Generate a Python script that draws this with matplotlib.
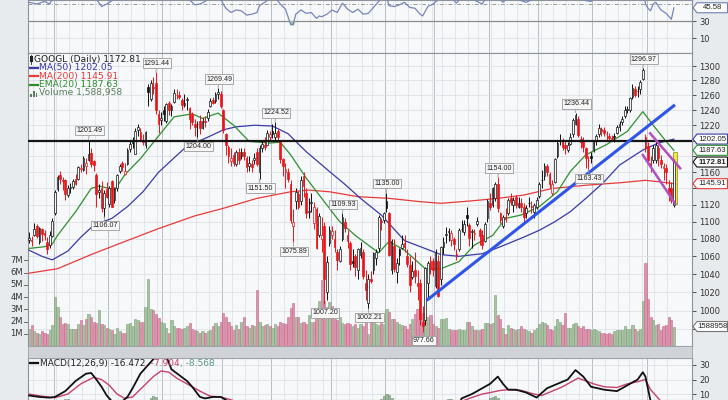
import matplotlib
matplotlib.use("Agg")
import matplotlib.pyplot as plt
from matplotlib.patches import Rectangle, Polygon
from matplotlib.lines import Line2D
from matplotlib.ticker import FixedLocator, FixedFormatter, NullLocator
import numpy as np
import pandas as pd

W, H = 728, 400
L, R = 28, 692

holidays = ['2018-05-28', '2018-07-04', '2018-09-03', '2018-11-22', '2018-12-05',
            '2018-12-25', '2019-01-01', '2019-01-21', '2019-02-18', '2019-04-19']
days = pd.bdate_range('2018-05-17', '2019-05-15')
days = days[~days.isin(pd.to_datetime(holidays))]

# daily OHLC, one row per month
opens = [1079, 1079, 1085, 1095, 1076, 1091, 1087, 1076, 1073, 1083,
         1110, 1139, 1156, 1151, 1150, 1132, 1141, 1142, 1152, 1152, 1164, 1163, 1168, 1175, 1184, 1174, 1156, 1136, 1141, 1116, 1139,
         1121, 1149, 1126, 1141, 1161, 1171, 1158, 1170, 1189, 1197, 1183, 1214, 1211, 1201, 1194, 1271, 1255, 1270, 1276, 1235, 1227,
         1240, 1225, 1250, 1240, 1251, 1260, 1260, 1253, 1247, 1254, 1243, 1235, 1222, 1222, 1225, 1217, 1225, 1230, 1246, 1254, 1252, 1262, 1262,
         1240, 1208, 1192, 1174, 1182, 1170, 1185, 1180, 1185, 1178, 1168, 1170, 1175, 1186, 1160, 1190, 1195, 1195, 1205,
         1212, 1205, 1212, 1200, 1176, 1160, 1160, 1146, 1095, 1125, 1133, 1125, 1155, 1135, 1112, 1122, 1098, 1115, 1085, 1080, 1095, 1020, 1075,
         1085, 1080, 1065, 1055, 1080, 1100, 1085, 1075, 1055, 1060, 1045, 1062, 1065, 1030, 1008, 1035, 1045, 1058, 1070, 1100, 1102,
         1125, 1110, 1045, 1072, 1042, 1068, 1070, 1075, 1060, 1050, 1037, 1045, 1030, 1030, 988, 990, 1030, 1055, 1055,
         1027, 1055, 1035, 1071, 1085, 1088, 1079, 1080, 1062, 1068, 1092, 1088, 1108, 1096, 1088, 1086, 1097, 1090, 1085, 1078, 1105,
         1122, 1120, 1128, 1146, 1110, 1095, 1106, 1110, 1128, 1120, 1130, 1118, 1122, 1118, 1110, 1122, 1118, 1112, 1118,
         1131, 1150, 1155, 1168, 1158, 1135, 1148, 1180, 1200, 1198, 1195, 1188, 1196, 1208, 1222, 1228, 1202, 1200, 1190, 1175, 1180,
         1188, 1200, 1208, 1215, 1214, 1208, 1206, 1204, 1206, 1210, 1218, 1224, 1232, 1240, 1240, 1257, 1268, 1265, 1268, 1282, 1205,
         1193, 1172, 1175, 1175, 1190, 1175, 1165, 1165, 1140, 1140, 1120]
highs = [1088, 1083, 1098, 1097, 1094, 1093, 1090, 1082, 1089, 1105,
         1138, 1157, 1162, 1154, 1152, 1144, 1147, 1152, 1158, 1168, 1170, 1180, 1178, 1201.49, 1190, 1175, 1159, 1146, 1149, 1138, 1148,
         1143, 1150, 1142, 1158, 1170, 1174, 1172, 1190, 1199, 1205, 1216, 1221, 1216, 1208, 1212, 1275, 1280, 1285, 1291.44, 1240, 1238,
         1245, 1250, 1252, 1248, 1268, 1268, 1266, 1256, 1262, 1258, 1244, 1238, 1228, 1226, 1234, 1230, 1232, 1242, 1256, 1258, 1264, 1269.49, 1265,
         1242, 1210, 1195, 1190, 1186, 1188, 1190, 1190, 1190, 1180, 1180, 1175, 1184, 1190, 1194, 1200, 1205, 1214, 1212,
         1222, 1224.52, 1215, 1201, 1178, 1172, 1165, 1150, 1115, 1140, 1137, 1155, 1160, 1140, 1128, 1135, 1124, 1118, 1110, 1106, 1100, 1060, 1095,
         1095, 1090, 1068, 1072, 1109.93, 1105, 1090, 1078, 1068, 1063, 1070, 1076, 1068, 1045, 1040, 1044, 1065, 1068, 1108, 1105, 1112,
         1135, 1112, 1080, 1080, 1058, 1070, 1085, 1085, 1068, 1060, 1055, 1065, 1045, 1035, 1005, 1048, 1055, 1060, 1058,
         1068, 1062, 1072, 1082, 1094, 1093, 1090, 1082, 1068, 1093, 1102, 1102, 1117, 1098, 1092, 1091, 1106, 1093, 1090, 1100, 1127,
         1134, 1142, 1148, 1154, 1112, 1108, 1116, 1128, 1135, 1130, 1132, 1130, 1128, 1122, 1120, 1130, 1125, 1122, 1130,
         1148, 1163, 1172, 1170, 1160, 1150, 1178, 1200, 1208, 1203, 1200, 1198, 1210, 1230, 1236.44, 1232, 1206, 1205, 1192, 1180, 1185,
         1200, 1208, 1222, 1218, 1218, 1212, 1210, 1207, 1210, 1220, 1225, 1232, 1245, 1246, 1258, 1275, 1272, 1272, 1280, 1296.97, 1208,
         1198, 1180, 1195, 1200, 1195, 1182, 1172, 1170, 1150, 1148, 1176]
lows = [1075, 1072, 1083, 1081, 1074, 1078, 1079, 1063, 1070, 1082,
        1108, 1137, 1146, 1138, 1126, 1130, 1135, 1139, 1144, 1150, 1160, 1162, 1158, 1174, 1166, 1162, 1118, 1128, 1112, 1106.07, 1129,
        1117, 1117, 1122, 1137, 1159, 1162, 1156, 1169, 1185, 1190, 1183, 1206, 1199, 1194, 1191, 1245, 1252, 1262, 1235, 1210, 1220,
        1225, 1223, 1233, 1232, 1250, 1255, 1255, 1240, 1244, 1240, 1215, 1220, 1206, 1204, 1208, 1215, 1218, 1226, 1244, 1248, 1250, 1255, 1243,
        1210, 1182, 1172, 1168, 1168, 1168, 1170, 1176, 1175, 1160, 1162, 1160, 1170, 1168, 1151.5, 1185, 1188, 1194, 1200,
        1203, 1200, 1200, 1172, 1155, 1140, 1148, 1099, 1075.89, 1115, 1115, 1120, 1130, 1105, 1105, 1112, 1092, 1068, 1082, 1065, 1007.2, 1012, 1072,
        1080, 1065, 1045, 1054, 1077, 1088, 1070, 1045, 1048, 1038, 1035, 1058, 1035, 1012, 1002.21, 1030, 1040, 1050, 1065, 1090, 1098,
        1112, 1060, 1040, 1042, 1030, 1050, 1068, 1065, 1048, 1020, 1035, 1030, 1012, 985, 977.66, 985, 1015, 1040, 1038,
        1025, 1015, 1028, 1063, 1075, 1077, 1072, 1067, 1056, 1066, 1088, 1085, 1095, 1072, 1070, 1079, 1095, 1073, 1068, 1076, 1100,
        1114, 1118, 1125, 1112, 1098, 1093, 1100, 1108, 1120, 1112, 1116, 1116, 1112, 1100, 1105, 1118, 1110, 1104, 1115,
        1128, 1140, 1150, 1155, 1141, 1132, 1147, 1178, 1195, 1188, 1183, 1185, 1195, 1205, 1220, 1205, 1190, 1185, 1165, 1163.43, 1172,
        1185, 1195, 1205, 1206, 1206, 1200, 1198, 1199, 1198, 1208, 1212, 1220, 1230, 1236, 1238, 1255, 1258, 1258, 1262, 1280, 1185,
        1170, 1160, 1172, 1172, 1168, 1165, 1150, 1145, 1125, 1122, 1118]
closes = [1081, 1077, 1092, 1083, 1093, 1086, 1084, 1068, 1084, 1101,
          1136, 1154, 1152, 1149, 1133, 1140, 1142, 1149, 1145, 1166, 1165, 1178, 1171, 1183, 1170, 1169, 1133, 1138, 1116, 1134, 1130,
          1141, 1118, 1141, 1156, 1168, 1167, 1161, 1188, 1196, 1197, 1213, 1218, 1200, 1198, 1211, 1264, 1276, 1270, 1240, 1222, 1230,
          1235, 1248, 1240, 1246, 1263, 1260, 1258, 1247, 1250, 1255, 1228, 1224, 1218, 1221, 1217, 1226, 1224, 1237, 1252, 1250, 1262, 1264, 1245,
          1214, 1194, 1180, 1178, 1172, 1185, 1175, 1186, 1180, 1166, 1172, 1167, 1178, 1170, 1190, 1196, 1192, 1210, 1208,
          1208, 1210, 1205, 1176, 1168, 1164, 1152, 1102, 1100, 1136, 1118, 1150, 1143, 1110, 1113, 1124, 1118, 1070, 1107, 1085, 1035, 1054, 1090,
          1089, 1071, 1056, 1068, 1106, 1093, 1078, 1051, 1052, 1048, 1068, 1070, 1038, 1022, 1035, 1032, 1064, 1065, 1106, 1100, 1111,
          1116, 1062, 1078, 1046, 1053, 1061, 1074, 1071, 1051, 1028, 1043, 1038, 1027, 991, 984, 1047, 1052, 1046, 1045,
          1065, 1016, 1071, 1076, 1086, 1089, 1087, 1074, 1062, 1090, 1091, 1097, 1105, 1081, 1089, 1087, 1101, 1083, 1073, 1097, 1125,
          1118, 1141, 1146, 1116, 1102, 1106, 1103, 1126, 1124, 1126, 1120, 1122, 1118, 1106, 1116, 1122, 1118, 1120, 1126,
          1146, 1151, 1168, 1160, 1146, 1145, 1176, 1197, 1200, 1192, 1190, 1194, 1205, 1227, 1233, 1207, 1198, 1192, 1178, 1175, 1178,
          1198, 1206, 1216, 1213, 1210, 1209, 1203, 1202, 1205, 1218, 1222, 1228, 1240, 1242, 1256, 1270, 1260, 1266, 1278, 1295, 1190,
          1175, 1168, 1191, 1195, 1178, 1170, 1168, 1160, 1137, 1126, 1172.81]
# daily volume in millions
volumes = [1.4, 1.7, 1.2, 1.1, 1.0, 1.2, 1.1, 1.0, 1.3, 1.7,
           4.0, 3.2, 2.4, 1.8, 1.9, 1.8, 1.4, 1.4, 1.4, 1.8, 2.1, 1.7, 2.2, 2.6, 2.4, 2.0, 1.9, 2.9, 1.8, 1.7, 1.5,
           1.4, 1.3, 1.0, 1.5, 1.2, 1.1, 1.1, 1.8, 1.9, 1.6, 2.2, 2.1, 2.0, 2.0, 3.2, 5.5, 3.0, 2.9, 2.6, 2.3, 2.0,
           1.9, 1.5, 1.1, 2.1, 1.6, 1.5, 1.5, 1.4, 1.5, 1.6, 1.9, 1.4, 1.3, 1.2, 1.1, 1.2, 1.1, 1.2, 1.3, 1.6, 1.9, 1.6, 2.0,
           2.7, 2.4, 2.0, 1.6, 1.3, 1.7, 1.4, 2.0, 2.4, 1.6, 1.5, 1.7, 1.6, 4.6, 2.0, 1.6, 1.7, 1.8, 1.6,
           1.5, 1.8, 1.6, 2.0, 1.9, 1.8, 2.4, 3.1, 3.5, 2.4, 2.4, 1.9, 2.0, 1.8, 2.5, 2.0, 2.0, 2.4, 3.7, 5.4, 3.7, 3.2, 3.6,
           3.3, 2.2, 2.1, 2.4, 1.9, 1.8, 1.9, 1.8, 1.6, 1.8, 1.5, 1.8, 1.6, 2.1, 1.0, 2.6, 2.0, 1.8, 1.7, 1.9, 1.8,
           3.0, 2.8, 2.2, 2.2, 2.0, 1.8, 1.7, 1.6, 1.4, 1.8, 2.2, 2.6, 3.0, 2.3, 2.7, 2.6, 2.4, 2.5, 1.8,
           1.6, 1.5, 2.2, 2.2, 2.3, 1.4, 1.3, 1.3, 1.3, 1.4, 1.3, 1.3, 2.0, 2.0, 1.6, 1.3, 1.3, 1.3, 1.4, 1.9, 1.9,
           1.8, 1.9, 4.2, 2.5, 2.2, 1.5, 1.0, 1.7, 1.5, 1.4, 1.3, 1.4, 1.6, 1.4, 1.3, 1.2, 1.1, 1.3, 1.5,
           1.8, 2.0, 1.9, 1.7, 1.4, 1.3, 1.6, 2.2, 2.0, 1.7, 2.7, 1.5, 1.5, 1.8, 1.9, 1.6, 1.5, 1.6, 1.4, 1.4, 1.3,
           1.4, 1.3, 1.2, 1.1, 1.1, 1.0, 1.1, 1.0, 1.2, 1.3, 1.3, 1.3, 1.6, 1.4, 1.4, 1.7, 1.4, 1.2, 1.4, 3.7, 6.8,
           3.8, 2.4, 2.1, 1.7, 1.8, 1.3, 1.6, 1.7, 2.4, 2.1, 1.59]

# overlays at sample days
ma50_x = [0, 5, 9, 15, 20, 25, 32, 38, 44, 50, 56, 60, 64, 70, 75, 80, 87, 94, 100, 107, 116, 122, 128, 136,
          145, 152, 159, 166, 175, 182, 191, 197, 203, 209, 215, 222, 228, 237, 243, 249]
ma50_v = [1067, 1060, 1056, 1066, 1082, 1096, 1104, 1118, 1136, 1160, 1178, 1190, 1197, 1206, 1214, 1218, 1220, 1219,
          1209, 1186, 1161, 1145, 1128, 1108, 1078, 1070, 1062, 1060, 1063, 1071, 1082, 1090, 1100, 1112, 1128, 1148,
          1169, 1188, 1197, 1202.05]
ma200_x = [0, 11, 24, 37, 50, 64, 75, 88, 101, 108, 116, 127, 139, 151, 159, 171, 181, 191, 202, 215, 228, 238, 244, 249]
ma200_v = [1041, 1046, 1062, 1077, 1092, 1107, 1116, 1128, 1136, 1138, 1136, 1130, 1128, 1124, 1122, 1125, 1128, 1132,
           1140, 1144, 1147, 1150, 1148, 1145.91]
ema20_x = [0, 6, 9, 11, 18, 24, 27, 31, 33, 37, 43, 50, 56, 63, 67, 73, 79, 85, 93, 97, 101, 107, 114, 120, 126,
           135, 139, 145, 153, 159, 166, 172, 179, 184, 190, 197, 204, 209, 215, 223, 231, 237, 241, 246, 249]
ema20_v = [1069, 1071, 1074, 1084, 1112, 1140, 1143, 1140, 1138, 1157, 1177, 1206, 1231, 1235, 1229, 1236, 1220, 1199,
           1197, 1198, 1182, 1153, 1124, 1100, 1084, 1064, 1077, 1067, 1046, 1046, 1054, 1073, 1084, 1104, 1108, 1118,
           1136, 1161, 1182, 1195, 1212, 1238, 1220, 1199, 1187.63]

rsi_x = [0, 3, 6, 8, 10, 14, 20, 24, 26, 28, 30, 33, 36, 42, 47, 50, 53, 56, 60, 62, 64, 66, 68, 70, 73, 75, 76, 78,
         80, 82, 84, 86, 88, 89, 91, 93, 95, 97, 99, 101, 102, 103, 105, 107, 109, 111, 112, 113, 115, 117, 119, 121,
         123, 125, 127, 129, 131, 133, 135, 137, 138, 139, 141, 143, 145, 147, 149, 151, 152, 154, 156, 158, 160, 163,
         165, 167, 170, 173, 175, 177, 180, 182, 183, 185, 188, 191, 192, 194, 197, 200, 202, 205, 211, 213, 215, 217,
         219, 225, 230, 237, 238, 239, 240, 241, 242, 244, 246, 248, 249]
rsi_v = [52, 50, 53, 50, 62, 66, 70, 68, 56, 47, 50, 56, 62, 70, 78, 66, 62, 66, 60, 55, 49, 50, 53, 60, 62, 50, 45, 40,
         43, 42, 37, 38, 40, 48, 52, 56, 58, 50, 44, 26, 26, 38, 43, 39, 40, 33, 36, 35, 38, 43, 40, 51,
         44, 40, 44, 38, 39, 46, 53, 58, 60, 48, 47, 49, 52, 46, 45, 38, 36, 47, 50, 55, 58, 58,
         51, 58, 57, 53, 50, 60, 68, 55, 52, 58, 56, 53, 52, 55, 62, 60, 57, 68, 75, 60, 54, 53,
         60, 63, 70, 80, 50, 45, 42, 50, 52, 43, 39, 32, 45.58]

macd_x = [0, 4, 8, 10, 14, 18, 22, 24, 26, 28, 30, 32, 34, 36, 38, 40, 43, 46, 48, 50, 53, 55, 58, 61, 63, 66, 68,
          71, 74, 76, 79, 85, 95, 100, 110, 120, 130, 138, 145, 152, 158, 164, 167, 171, 175, 178, 181, 183, 185,
          188, 192, 196, 200, 204, 208, 211, 214, 217, 222, 227, 231, 235, 237, 238, 240, 243, 246, 249]
macd_v = [9, 8, 7.5, 8, 12, 19, 24, 24.5, 20, 15, 9, 5, 3, 5, 8, 14, 24, 30, 34, 38, 36, 27, 23, 19, 15, 8, 7,
          8, 8, 6, 2, -2, 0, -6, -15, -18, -25, -20, -20, -28, -22, -8, 7, 10, 14, 17, 22, 17, 13,
          13, 11, 7.6, 14, 17, 20, 26.5, 22, 15, 13, 12, 16, 20, 25, 22, 5, -5, -12, -16.472]
signal_x = [0, 5, 10, 15, 20, 25, 28, 31, 34, 37, 40, 44, 48, 51, 54, 57, 60, 63, 66, 70, 74, 78, 85, 95, 105, 120,
            135, 145, 155, 163, 167, 170, 175, 178, 182, 185, 190, 195, 198, 202, 206, 208, 212, 215, 218, 222, 227,
            231, 235, 237, 238, 240, 243, 246, 249]
signal_v = [10, 8.5, 7.5, 10, 17, 21.5, 20, 16, 10, 7, 8, 15, 22, 25.9, 25, 21, 18, 15, 12, 8.5, 8, 6, 2, -1, -8, -15,
            -22, -23, -24, -12, 5, 7, 10, 11, 12.5, 13, 12.5, 10, 9, 12, 15, 17, 21, 19, 17, 15, 14.5,
            17, 18.5, 19.5, 20, 13, 7, 1, -7.904]
hist_x = [14, 15, 47, 48, 49, 136, 137, 138, 139, 140, 162, 163, 178, 179, 180, 181]
hist_v = [6.6, 6.8, 7.5, 8.5, 7.8, 6.8, 8.5, 10, 9.2, 7.5, 6.5, 6.8, 7, 8.2, 8.8, 7.5]

# labelled highs and lows
mark_x = [23, 29, 49, 65, 73, 89, 95, 102, 114, 121, 131, 138, 152, 181, 211, 216, 237]
mark_v = [1201.49, 1106.07, 1291.44, 1204.00, 1269.49, 1151.50, 1224.52, 1075.89, 1007.20, 1109.93,
          1002.21, 1135.00, 977.66, 1154.00, 1236.44, 1163.43, 1296.97]
mark_up = [1, 0, 1, 0, 1, 0, 1, 0, 0, 1, 0, 1, 0, 1, 1, 0, 1]

# annotation lines drawn on the chart
level = 1200
trend_x, trend_y = [153.5, 249.4], [1011, 1247]
chan_top_x, chan_top_y = [239.8, 251.4], [1209.5, 1165]
chan_bot_x, chan_bot_y = [237, 249.4], [1181.7, 1122]

price_ticks = list(range(980, 1301, 20))
hidden_ticks = (980, 1140, 1180, 1200)   # sit under the value tags
vmax = 23.92

bg = '#f7f8fa'
tagfont = 'Liberation Sans'
n = len(closes)
xs = np.arange(n)
o, hi, lo, c = map(np.array, (opens, highs, lows, closes))
vol = np.array(volumes)

week_starts = [i for i in range(1, n) if days[i].weekday() < days[i - 1].weekday()]
month_starts = [i for i in range(1, n) if days[i].month != days[i - 1].month]

fig = plt.figure(figsize=(W / 100, H / 100), dpi=100, facecolor='#e8ebee')


def box(py0, py1):
    return [L / W, 1 - py1 / H, (R - L) / W, (py1 - py0) / H]


ax_rsi = fig.add_axes(box(0, 53))
ax = fig.add_axes(box(53, 346))
ax_macd = fig.add_axes(box(358, 400))

for a in (ax_rsi, ax, ax_macd):
    a.set_facecolor(bg)
    a.set_xlim(-0.39, 255.98)
    a.set_xticks([])
    for s in a.spines.values():
        s.set_color('#8c939b')
        s.set_linewidth(0.8)
    a.yaxis.tick_right()
    a.tick_params(axis='y', labelsize=6, length=3, pad=2, colors='#333333', width=0.6)
    for i in week_starts:
        a.axvline(i - 0.5, color='#dfe3e8', lw=0.6, zorder=0)
    for i in month_starts:
        a.axvline(i - 0.5, color='#b8bec6', lw=0.7, zorder=0)

# ---- main price panel
ax.set_yscale('log')
ax.set_ylim(962.8, 1318.3)
ax.yaxis.set_major_locator(FixedLocator(price_ticks))
ax.yaxis.set_major_formatter(FixedFormatter(['' if t in hidden_ticks else str(t) for t in price_ticks]))
ax.yaxis.set_minor_locator(NullLocator())
for t in price_ticks:
    ax.axhline(t, color='#dde1e6', lw=0.6, zorder=0)

prev = np.r_[c[0], c[:-1]]
up = c >= prev
vt = ax.get_xaxis_transform()
for i in xs:
    fc, ec = ('#a6c2a0', '#7d9f78') if up[i] else ('#dc93ab', '#c46b8a')
    ax.add_patch(Rectangle((i - 0.42, 0), 0.84, vol[i] / vmax, transform=vt,
                           fc=fc, ec=ec, lw=0.4, zorder=1))

ax.plot(ma200_x, ma200_v, color='#e83a3a', lw=0.9, zorder=3)
ax.plot(ma50_x, ma50_v, color='#3a3aa8', lw=0.9, zorder=3)
ax.plot(ema20_x, ema20_v, color='#2f8f2f', lw=0.9, zorder=3)

ax.add_patch(Rectangle((248.55, 1121), 1.6, 64, fc='#f2e64a', ec='#a09a20', lw=0.6, zorder=3.5))

cand_col = np.where(up, '#111111', '#e8161b')
ax.vlines(xs, lo, hi, colors=cand_col, lw=0.7, zorder=4)
for i in xs:
    b0, b1 = sorted((o[i], c[i]))
    if b1 - b0 < 0.8:
        b1 = b0 + 0.8
    face = bg if c[i] > o[i] else cand_col[i]
    ax.add_patch(Rectangle((i - 0.33, b0), 0.66, b1 - b0, fc=face, ec=cand_col[i], lw=0.5, zorder=5))

ax.axhline(level, color='#151515', lw=1.6, zorder=6)
ax.plot(trend_x, trend_y, color='#2f55e8', lw=2.2, zorder=6, solid_capstyle='butt')
ax.plot(chan_top_x, chan_top_y, color='#b04fc0', lw=1.8, zorder=6)
ax.plot(chan_bot_x, chan_bot_y, color='#b04fc0', lw=1.8, zorder=6)

for i, v, u in zip(mark_x, mark_v, mark_up):
    ax.annotate(f'{v:.2f}', xy=(i, v), xytext=(1, 9 if u else -9), textcoords='offset pixels',
                ha='center', va='center', fontsize=5.1, family=tagfont, color='#222222', zorder=8,
                bbox=dict(boxstyle='square,pad=0.18', fc='#f7f7f7', ec='#9a9a9a', lw=0.6),
                arrowprops=dict(arrowstyle='-', color='#9a9a9a', lw=0.6, shrinkA=0, shrinkB=0),
                annotation_clip=False)

for v in range(1, 8):
    yv = v / vmax
    ax.plot([-0.006, 0], [yv, yv], transform=ax.transAxes, clip_on=False, color='#555555', lw=0.6)
    ax.text(-0.008, yv, f'{v}M', transform=ax.transAxes, ha='right', va='center', fontsize=6, color='#333333')

# legend block
rows = [(34.5, 59, 'GOOGL (Daily) 1172.81', '#222222'), (39, 67.7, 'MA(50) 1202.05', '#3a3aa8'),
        (39, 76, 'MA(200) 1145.91', '#e83a3a'), (39, 84.5, 'EMA(20) 1187.63', '#2f8f2f'),
        (39, 93, 'Volume 1,588,958', '#5a7f5a')]
for k, (px, py, txt, col) in enumerate(rows):
    fig.text(px / W, 1 - py / H, txt, fontsize=6.6, color=col, va='center', ha='left')
    if k in (1, 2, 3):
        fig.add_artist(Line2D([30 / W, 37.5 / W], [1 - py / H] * 2, color=col, lw=1.6))
fig.add_artist(Rectangle((29.8 / W, 1 - 62 / H), 3 / W, 6 / H, fc='#222222', ec='none'))
fig.add_artist(Line2D([31.3 / W, 31.3 / W], [1 - 63.5 / H, 1 - 54.5 / H], color='#222222', lw=0.6))
for k, hh in enumerate((3, 6, 4)):
    fig.add_artist(Rectangle(((30.5 + k * 2.5) / W, 1 - 96.5 / H), 1.8 / W, hh / H, fc='#5a7f5a', ec='none'))

# date band
fig.add_artist(Rectangle((L / W, 1 - 358 / H), (R - L) / W, 12 / H, fc='#cfd3d8', ec='#9aa0a6', lw=0.6))
for i in month_starts:
    d = days[i]
    lab = str(d.year) if d.month == 1 else d.strftime('%b')
    ax.text(i, -0.0205, lab, transform=vt, ha='center', va='center', fontsize=6,
            fontweight='bold' if d.month == 1 else 'normal', color='#222222', clip_on=False)

# ---- RSI panel
ax_rsi.set_ylim(-7.6, 54.7)
ax_rsi.set_yticks([10, 30])
ax_rsi.axhline(10, color='#dde1e6', lw=0.6, zorder=0)
ax_rsi.axhline(30, color='#8a8a8a', lw=0.9, zorder=1)
ax_rsi.axhline(50, color='#9a9a9a', lw=0.7, ls=(0, (4, 2, 1, 2)), zorder=1)
rv = np.array(rsi_v, dtype=float)
ax_rsi.fill_between(rsi_x, rv, 30, where=rv < 30, interpolate=True, color='#9cc79c', zorder=2)
ax_rsi.plot(rsi_x, rsi_v, color='#7886b8', lw=0.9, zorder=3)

# ---- MACD panel
ax_macd.set_ylim(5.9, 34.8)
ax_macd.set_yticks([10, 20, 30])
for t in (10, 20, 30):
    ax_macd.axhline(t, color='#dde1e6', lw=0.6, zorder=0)
ax_macd.bar(hist_x, hist_v, width=0.85, color='#9ab89a', edgecolor='#6f8f6f', lw=0.4, zorder=1)
ax_macd.plot(signal_x, signal_v, color='#c8406a', lw=1.0, zorder=2)
ax_macd.plot(macd_x, macd_v, color='#111111', lw=1.3, zorder=3)

rend = fig.canvas.get_renderer()
fig.add_artist(Line2D([30 / W, 37.5 / W], [1 - 363.3 / H] * 2, color='#111111', lw=1.6))
xp = 40
for txt, col in (('MACD(12,26,9) -16.472', '#222222'), (', -7.904', '#c8406a'), (', -8.568', '#5a9a8a')):
    t = fig.text(xp / W, 1 - 363.3 / H, txt, fontsize=6.5, color=col, va='center', ha='left')
    xp += t.get_window_extent(renderer=rend).width


# ---- value tags on the right edge
def tag(py, text, ec, bold=False):
    y = 1 - py / H
    hh = 5 / H
    x0, x1, x2 = 693 / W, 697 / W, 727.5 / W
    fig.add_artist(Polygon([[x0, y], [x1, y + hh], [x2, y + hh], [x2, y - hh], [x1, y - hh]], closed=True,
                           transform=fig.transFigure, fc='white', ec=ec, lw=0.8, zorder=10))
    fig.text(712.5 / W, y, text, fontsize=5.6, family=tagfont, color='#222222', va='center', ha='center',
             zorder=11, fontweight='bold' if bold else 'normal')


def py_of(a, v):
    return H - a.transData.transform((0, v))[1]


tag(py_of(ax, 1202.05), '1202.05', '#3a3aa8')
tag(py_of(ax, 1187.63), '1187.63', '#2f8f2f')
tag(py_of(ax, 1172.81), '1172.81', '#111111', bold=True)
tag(py_of(ax, 1145.91), '1145.91', '#e83a3a')
tag(H - ax.transAxes.transform((0, vol[-1] / vmax))[1], '1588958', '#777777')
tag(py_of(ax_rsi, 45.58), '45.58', '#6f7fb0')

fig.savefig('out.png', dpi=100, facecolor=fig.get_facecolor())
